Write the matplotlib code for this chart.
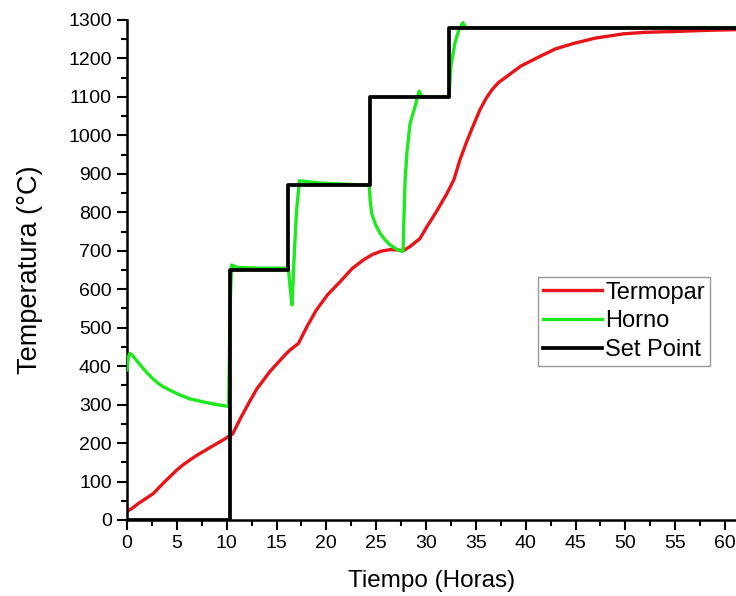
import matplotlib
matplotlib.use("Agg")
import matplotlib.pyplot as plt
from matplotlib.ticker import MultipleLocator

plt.rcParams['font.family'] = ['Liberation Sans', 'DejaVu Sans']

# Set Point (step profile)
sp_x = [0, 10.3, 10.3, 16.2, 16.2, 24.35, 24.35, 32.3, 32.3, 61.2]
sp_y = [0, 0, 650, 650, 870, 870, 1100, 1100, 1280, 1280]

# Horno (furnace)
horno_x = [0, 0.15, 0.3, 0.5, 0.8, 1.2, 1.6, 2.1, 2.6, 3.1, 3.6, 4.5, 5.3, 6.3, 7.65, 8.8,
           10.0, 10.2, 10.35, 10.5, 11.0, 13.0, 16.2, 16.35, 16.55, 16.8, 17.0, 17.3, 19.4,
           22.0, 24.3, 24.4, 24.55, 24.9, 25.4, 25.9, 26.4, 27.0, 27.6, 27.7, 27.8, 27.9,
           28.1, 28.4, 28.9, 29.3, 29.6, 32.3, 32.5, 32.9, 33.3, 33.7, 34.0, 61.2]
horno_y = [390, 425, 433, 429, 420, 407, 395, 380, 367, 356, 347, 335, 325, 315, 307, 301,
           296, 296, 560, 663, 657, 655, 655, 610, 559, 700, 800, 882, 876,
           873, 870, 830, 797, 770, 745, 728, 715, 705, 698, 702, 800, 884,
           960, 1031, 1075, 1115, 1100, 1100, 1180, 1240, 1275, 1293, 1280, 1280]

# Termopar (thermocouple)
term_x = [0, 0.6, 1.2, 1.9, 2.65, 3.2, 3.8, 4.4, 5.0, 5.6, 6.3, 7.0, 7.65, 8.3, 8.9, 9.5,
          10.07, 10.6, 11.4, 12.3, 13.0, 13.7, 14.3, 15.0, 15.7, 16.35, 17.2, 18.1, 19.0,
          20.1, 21.4, 22.6, 23.7, 24.6, 25.5, 26.4, 27.2, 27.7, 28.4, 29.4, 30.1, 31.0,
          32.1, 32.8, 33.4, 34.1, 34.7, 35.4, 36.0, 36.6, 37.3, 38.1, 39.5, 41.4, 43.0,
          44.8, 47.0, 49.8, 52.0, 54.8, 58.0, 61.2]
term_y = [22, 32, 44, 56, 69, 84, 100, 115, 130, 143, 156, 168, 178, 188, 197, 206,
          215, 224, 265, 308, 340, 364, 385, 405, 425, 442, 459, 505, 546,
          585, 620, 654, 676, 690, 699, 703, 702, 700, 711, 732, 763, 800,
          849, 885, 936, 985, 1023, 1066, 1095, 1118, 1138, 1153, 1180, 1205, 1225,
          1239, 1253, 1264, 1268, 1270, 1273, 1275]

fig = plt.figure(figsize=(7.36, 5.96), dpi=100)
ax = fig.add_axes([127/736, 76/596, 609/736, 500/596])

ax.plot(term_x, term_y, color='#e8141a', lw=2.4, label='Termopar', zorder=2)
ax.plot(horno_x, horno_y, color='#1ee81e', lw=2.4, label='Horno', zorder=3)
ax.plot(sp_x, sp_y, color='black', lw=2.7, label='Set Point', zorder=4)

ax.set_xlim(0, 61.1)
ax.set_ylim(0, 1300)
ax.xaxis.set_major_locator(MultipleLocator(5))
ax.xaxis.set_minor_locator(MultipleLocator(2.5))
ax.yaxis.set_major_locator(MultipleLocator(100))
ax.yaxis.set_minor_locator(MultipleLocator(50))
ax.tick_params(which='major', direction='out', length=7, width=1.5, labelsize=14, pad=4)
ax.tick_params(which='minor', direction='out', length=4, width=1.5)
for s in ['top', 'right']:
    ax.spines[s].set_visible(False)
for s in ['left', 'bottom']:
    ax.spines[s].set_linewidth(1.8)

ax.set_xlabel('Tiempo (Horas)', fontsize=17.5, labelpad=13)
ax.set_ylabel('Temperatura (°C)', fontsize=19.5, labelpad=18)

leg = ax.legend(loc='upper left', bbox_to_anchor=(0.675, 0.486), fontsize=17,
                handlelength=2.5, handletextpad=0.15, labelspacing=0.28,
                borderpad=0.2, borderaxespad=0, fancybox=False, framealpha=1)
leg.get_frame().set_edgecolor('#999999')
leg.get_frame().set_linewidth(1.0)

fig.savefig('out.png', dpi=100)
